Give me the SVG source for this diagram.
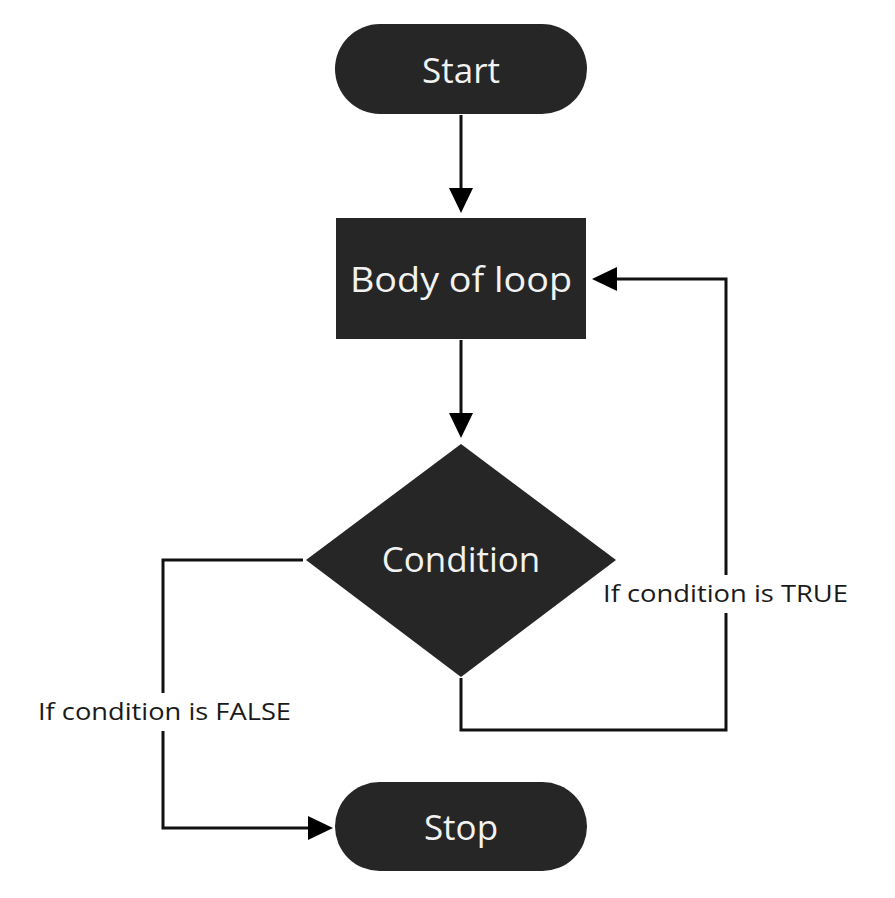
<svg xmlns="http://www.w3.org/2000/svg" width="895" height="898" viewBox="0 0 895 898">
<defs>
<style>
.node{fill:#262626;}
.nt{fill:#f2f2f2;font-family:"Open Sans","Noto Sans",sans-serif;font-size:35px;text-anchor:middle;dominant-baseline:central;}
.lbl{fill:#1a1a1a;font-family:"Open Sans","Noto Sans",sans-serif;font-size:23px;}
.conn{fill:none;stroke:#111;stroke-width:3;}
</style>
</defs>
<rect width="895" height="898" fill="#fff"/>
<g id="connectors">
<path class="conn" d="M461,115 V190" />
<path d="M449,188 L473,188 L461,213 Z" fill="#000"/>
<path class="conn" d="M461,340 V415" />
<path d="M449,413 L473,413 L461,438 Z" fill="#000"/>
<path class="conn" d="M461,678 V730 H726 V279 H615" />
<path d="M617,267 L617,291 L592,279 Z" fill="#000"/>
<path class="conn" d="M303,560 H163 V828 H310" />
<path d="M308,816 L308,840 L333,828 Z" fill="#000"/>
<rect x="600" y="575" width="252" height="38" fill="#fff"/>
<text class="lbl" x="603" y="602" textLength="245" lengthAdjust="spacingAndGlyphs">If condition is TRUE</text>
<rect x="34" y="693" width="262" height="38" fill="#fff"/>
<text class="lbl" x="38" y="720" textLength="253" lengthAdjust="spacingAndGlyphs">If condition is FALSE</text>
</g>
<g id="start">
<rect class="node" x="335" y="24" width="252" height="90" rx="45"/>
<text class="nt" x="461" y="69">Start</text>
</g>
<g id="body">
<rect class="node" x="336" y="218" width="250" height="121"/>
<text class="nt" x="461" y="278" textLength="222" lengthAdjust="spacingAndGlyphs">Body of loop</text>
</g>
<g id="condition">
<polygon class="node" points="461,444 616,560 461,677 306,560"/>
<text class="nt" x="461" y="558">Condition</text>
</g>
<g id="stop">
<rect class="node" x="335" y="782" width="252" height="89" rx="44.5"/>
<text class="nt" x="461" y="826">Stop</text>
</g>
</svg>
